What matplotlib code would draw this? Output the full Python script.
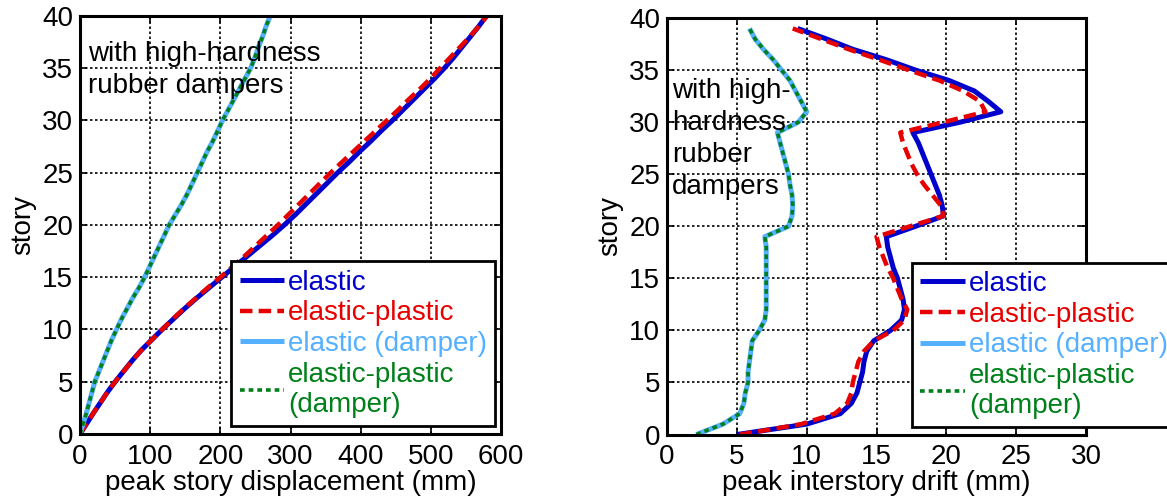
import matplotlib
matplotlib.use('Agg')
import matplotlib.pyplot as plt

plt.rcParams['font.family'] = ['Liberation Sans', 'DejaVu Sans']
plt.rcParams['font.size'] = 20

# story numbers
stories_disp = list(range(0, 41))
stories_drift = list(range(0, 40))

# peak story displacement (mm)
disp_elastic = [0, 9.5, 19, 29, 39, 50, 62, 74, 87, 102, 117,
                133, 149, 166, 184, 202, 220, 238, 256, 274, 291,
                307, 322, 337, 352, 367, 383, 398, 414, 429, 445,
                460, 475, 490, 505, 519, 532, 544, 556, 568, 579]
disp_plastic = [0, 9.5, 19, 29, 39, 50, 62, 74, 87, 102, 117,
                132, 148, 165, 182, 200, 217, 234, 250, 266, 282,
                297, 312, 327, 342, 357, 373, 389, 405, 421, 437,
                453, 468, 484, 499, 513, 527, 541, 555, 568, 580]
disp_elastic_damper = [0, 4.5, 9, 13, 17, 21, 27, 33, 39, 45, 52,
                       59, 67, 75, 84, 92, 99, 106, 113, 120, 127,
                       136, 145, 153, 160, 167, 174, 181, 189, 196, 203,
                       211, 219, 227, 235, 243, 249, 254, 260, 265, 271]
disp_plastic_damper = [0, 4.5, 9, 13, 17, 21, 27, 33, 39, 45, 52,
                       59, 67, 75, 84, 92, 99, 106, 113, 120, 127,
                       136, 145, 153, 160, 167, 174, 181, 189, 196, 203,
                       211, 219, 227, 235, 243, 249, 254, 260, 265, 271]

# peak interstory drift (mm)
drift_elastic = [5.0, 10.0, 12.4, 13.2, 13.6, 13.8, 14.0, 14.1, 14.3, 14.8,
                 16.0, 16.8, 17.0, 16.9, 16.7, 16.5, 16.2, 16.0, 15.8, 15.7,
                 17.8, 19.8, 19.7, 19.5, 19.2, 18.9, 18.6, 18.3, 18.0, 17.6,
                 21.0, 23.9, 23.0, 22.0, 20.2, 17.8, 15.7, 13.3, 11.4, 9.35]
drift_plastic = [5.2, 9.6, 12.0, 12.9, 13.2, 13.3, 13.5, 13.7, 14.1, 14.8,
                 16.2, 17.0, 17.2, 16.8, 16.5, 16.2, 15.8, 15.5, 15.2, 15.0,
                 17.4, 19.8, 19.6, 19.0, 18.4, 17.9, 17.5, 17.2, 16.9, 16.7,
                 19.8, 22.8, 22.4, 21.2, 19.5, 17.3, 15.2, 13.0, 11.0, 9.0]
drift_elastic_damper = [2.1, 4.0, 5.2, 5.5, 5.6, 5.8, 5.8, 5.9, 6.0, 6.1,
                        6.6, 7.0, 7.1, 7.1, 7.1, 7.1, 7.1, 7.1, 7.1, 7.0,
                        8.7, 8.95, 9.0, 8.95, 8.8, 8.7, 8.5, 8.3, 8.1, 7.9,
                        9.4, 10.0, 9.6, 9.2, 8.8, 8.2, 7.6, 6.9, 6.3, 5.9]
drift_plastic_damper = [2.1, 4.0, 5.2, 5.5, 5.6, 5.8, 5.8, 5.9, 6.0, 6.1,
                        6.6, 7.0, 7.1, 7.1, 7.1, 7.1, 7.1, 7.1, 7.1, 7.0,
                        8.7, 8.95, 9.0, 8.95, 8.8, 8.7, 8.5, 8.3, 8.1, 7.9,
                        9.4, 10.0, 9.6, 9.2, 8.8, 8.2, 7.6, 6.9, 6.3, 5.9]

labels = ['elastic', 'elastic-plastic', 'elastic (damper)', 'elastic-plastic\n(damper)']
colors = ['#0000cc', '#e60000', '#55b0ff', '#00801a']


def draw(ax, story, e, p, ed, pd_):
    ax.plot(e, story, color=colors[0], lw=3.6, solid_capstyle='butt', label=labels[0])
    ax.plot(p, story, color=colors[1], lw=3.2, dashes=(2.8, 1.4), dash_capstyle='butt', label=labels[1])
    ax.plot(ed, story, color=colors[2], lw=3.6, solid_capstyle='butt', label=labels[2])
    ax.plot(pd_, story, color=colors[3], lw=2.6, dashes=(1.3, 1.1), dash_capstyle='butt', label=labels[3])
    ax.set_ylim(0, 40)
    ax.set_yticks(range(0, 41, 5))
    ax.set_ylabel('story', labelpad=4)
    ax.grid(True, color='black', linestyle=(0, (1.5, 1.5)), linewidth=1.2)
    for s in ax.spines.values():
        s.set_linewidth(2.2)
    ax.tick_params(direction='in', length=5, width=1.2, top=True, right=True, pad=5)
    ax.tick_params(axis='x', pad=7)


fig = plt.figure(figsize=(11.67, 4.97), dpi=100)
ax1 = fig.add_axes([0.0686, 0.1268, 0.3608, 0.841])
ax2 = fig.add_axes([0.5716, 0.1257, 0.359, 0.838])

draw(ax1, stories_disp, disp_elastic, disp_plastic, disp_elastic_damper, disp_plastic_damper)
ax1.set_xlim(0, 600)
ax1.set_xticks(range(0, 601, 100))
ax1.set_xlabel('peak story displacement (mm)', labelpad=0)
ax1.text(0.019, 0.941, 'with high-hardness\nrubber dampers', transform=ax1.transAxes,
         va='top', ha='left', linespacing=1.3)

draw(ax2, stories_drift, drift_elastic, drift_plastic, drift_elastic_damper, drift_plastic_damper)
ax2.set_xlim(0, 30)
ax2.set_xticks(range(0, 31, 5))
ax2.set_xlabel('peak interstory drift (mm)', labelpad=0)
ax2.text(0.012, 0.856, 'with high-\nhardness\nrubber\ndampers', transform=ax2.transAxes,
         va='top', ha='left', linespacing=1.3)

for ax, anchor in [(ax1, (0.359, 0.019)), (ax2, (0.585, 0.017))]:
    leg = ax.legend(loc='lower left', bbox_to_anchor=anchor, borderaxespad=0,
                    handlelength=1.6, handletextpad=0.15, labelspacing=0.17,
                    borderpad=0.3, fancybox=False, framealpha=1, edgecolor='black')
    leg.get_frame().set_linewidth(2.0)
    for t, c in zip(leg.get_texts(), colors):
        t.set_color(c)

fig.savefig('out.png', dpi=100)
